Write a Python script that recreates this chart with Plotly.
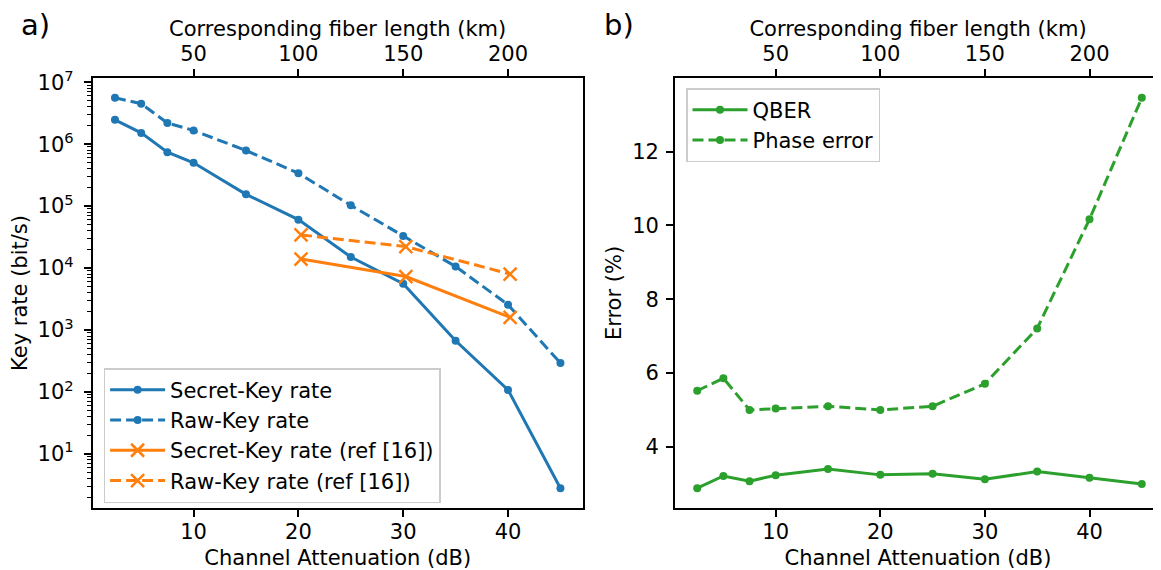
import plotly.graph_objects as go

# ---------------- data ----------------
atten_db = [2.5, 5, 7.5, 10, 15, 20, 25, 30, 35, 40, 45]
secret_key_rate = [2.47e6, 1.52e6, 7.4e5, 5.0e5, 1.55e5, 6.05e4, 1.51e4, 5.6e3, 671, 108, 2.8]
raw_key_rate = [5.6e6, 4.5e6, 2.2e6, 1.66e6, 7.9e5, 3.4e5, 1.03e5, 3.3e4, 1.06e4, 2.56e3, 293]
ref_atten_db = [20.25, 30.25, 40.2]
ref_secret_key_rate = [1.40e4, 7.3e3, 1.6e3]
ref_raw_key_rate = [3.43e4, 2.22e4, 8.0e3]
qber = [2.88, 3.21, 3.07, 3.23, 3.40, 3.24, 3.27, 3.12, 3.33, 3.16, 2.99]
phase_error = [5.52, 5.86, 5.00, 5.04, 5.10, 5.00, 5.10, 5.71, 7.21, 10.17, 13.46]

bottom_ticks = [10, 20, 30, 40]
fiber_km_ticks = [50, 100, 150, 200]
db_per_km = 0.2
log_major = [1, 2, 3, 4, 5, 6, 7]
err_ticks = [4, 6, 8, 10, 12]

# ---------------- style ----------------
PAGE_W, PAGE_H = 1161, 570
OFF = 8  # default page body margin
W, H = PAGE_W - OFF, PAGE_H - OFF
FONT = "DejaVu Sans"
FS = 21
BLUE, ORANGE, GREEN = "#1f77b4", "#ff7f0e", "#2ca02c"
LW = 3
DASH = "11px,5px"

def px_x(p):
    return (p - OFF) / W

def px_y(p):
    return 1 - (p - OFF) / H

fig = go.Figure()

# ---- panel a ----
fig.add_trace(go.Scatter(x=atten_db, y=secret_key_rate, mode="lines+markers",
                         name="Secret-Key rate", line=dict(color=BLUE, width=LW),
                         marker=dict(size=8, color=BLUE), xaxis="x", yaxis="y",
                         legend="legend"))
fig.add_trace(go.Scatter(x=atten_db, y=raw_key_rate, mode="lines+markers",
                         name="Raw-Key rate", line=dict(color=BLUE, width=LW, dash=DASH),
                         marker=dict(size=8, color=BLUE), xaxis="x", yaxis="y",
                         legend="legend"))
fig.add_trace(go.Scatter(x=ref_atten_db, y=ref_secret_key_rate, mode="lines+markers",
                         name="Secret-Key rate (ref [16])", line=dict(color=ORANGE, width=LW),
                         marker=dict(symbol="x-thin", size=13, color=ORANGE,
                                     line=dict(width=2.5, color=ORANGE)),
                         xaxis="x", yaxis="y", legend="legend"))
fig.add_trace(go.Scatter(x=ref_atten_db, y=ref_raw_key_rate, mode="lines+markers",
                         name="Raw-Key rate (ref [16])", line=dict(color=ORANGE, width=LW, dash=DASH),
                         marker=dict(symbol="x-thin", size=13, color=ORANGE,
                                     line=dict(width=2.5, color=ORANGE)),
                         xaxis="x", yaxis="y", legend="legend"))
# top axis holder (no marks)
fig.add_trace(go.Scatter(x=[], y=[], xaxis="x3", yaxis="y", showlegend=False, hoverinfo="skip"))

# ---- panel b ----
fig.add_trace(go.Scatter(x=atten_db, y=qber, mode="lines+markers", name="QBER",
                         line=dict(color=GREEN, width=LW), marker=dict(size=8, color=GREEN),
                         xaxis="x2", yaxis="y2", legend="legend2"))
fig.add_trace(go.Scatter(x=atten_db, y=phase_error, mode="lines+markers", name="Phase error",
                         line=dict(color=GREEN, width=LW, dash=DASH), marker=dict(size=8, color=GREEN),
                         xaxis="x2", yaxis="y2", legend="legend2"))
fig.add_trace(go.Scatter(x=[], y=[], xaxis="x4", yaxis="y2", showlegend=False, hoverinfo="skip"))

ydom = [px_y(507.7), px_y(78.3)]
dom_a = [px_x(92.7), px_x(582.7)]
dom_b = [px_x(675), 1.0]
range_a = [0.375, 47.125]
range_b = [0.375, 10 + (PAGE_W - 775.7) / 10.46]

common_axis = dict(showline=True, linecolor="black", linewidth=1.7, ticks="outside",
                   ticklen=7, tickwidth=1.7, tickcolor="black", showgrid=False,
                   zeroline=False, automargin=False, tickangle=0,
                   tickfont=dict(family=FONT, size=FS, color="black"))

minor_vals = [m * 10 ** k for k in range(0, 7) for m in range(2, 10)]

legend_common = dict(xref="paper", yref="paper", xanchor="left", yanchor="top",
                     bgcolor="rgba(255,255,255,0.8)", bordercolor="#cccccc",
                     borderwidth=1.5, itemwidth=55, font=dict(family=FONT, size=FS))

fig.update_layout(
    width=W, height=H, margin=dict(l=0, r=0, t=0, b=0, autoexpand=False),
    paper_bgcolor="white", plot_bgcolor="white",
    font=dict(family=FONT, size=FS, color="black"),
    xaxis=dict(domain=dom_a, range=range_a, anchor="y", tickvals=bottom_ticks,
               mirror=True, ticklabelstandoff=-3,
               title=dict(text="Channel Attenuation (dB)", standoff=8,
                          font=dict(family=FONT, size=FS)), **common_axis),
    xaxis3=dict(domain=dom_a, range=range_a, anchor="y", overlaying="x", side="top",
                tickvals=[k * db_per_km for k in fiber_km_ticks],
                ticktext=[str(k) for k in fiber_km_ticks],
                title=dict(text="Corresponding fiber length (km)", standoff=0,
                           font=dict(family=FONT, size=FS)), **common_axis),
    yaxis=dict(domain=ydom, type="log", range=[0.132, 7.063], anchor="x",
               tickvals=[10 ** k for k in log_major],
               ticktext=["10<sup>%d</sup>" % k for k in log_major],
               mirror=True, ticklabelstandoff=6,
               minor=dict(tickvals=minor_vals, ticks="outside", ticklen=4, tickwidth=1.2,
                          tickcolor="black", showgrid=False),
               title=dict(text="Key rate (bit/s)", standoff=5, font=dict(family=FONT, size=FS)),
               **common_axis),
    xaxis2=dict(domain=dom_b, range=range_b, anchor="y2", tickvals=bottom_ticks,
                mirror=True, ticklabelstandoff=-3,
                title=dict(text="Channel Attenuation (dB)", standoff=8,
                           font=dict(family=FONT, size=FS)), **common_axis),
    xaxis4=dict(domain=dom_b, range=range_b, anchor="y2", overlaying="x2", side="top",
                tickvals=[k * db_per_km for k in fiber_km_ticks],
                ticktext=[str(k) for k in fiber_km_ticks],
                title=dict(text="Corresponding fiber length (km)", standoff=0,
                           font=dict(family=FONT, size=FS)), **common_axis),
    yaxis2=dict(domain=ydom, range=[2.35, 13.99], anchor="x2", tickvals=err_ticks,
                mirror=True, ticklabelstandoff=3,
                title=dict(text="Error (%)", standoff=5, font=dict(family=FONT, size=FS)),
                **common_axis),
    legend=dict(x=px_x(103.6), y=px_y(368), **legend_common),
    legend2=dict(x=px_x(686), y=px_y(88), **legend_common),
    annotations=[
        dict(text="a)", xref="paper", yref="paper", x=px_x(19), y=px_y(25),
             xanchor="left", yanchor="middle", showarrow=False,
             font=dict(family=FONT, size=29, color="black")),
        dict(text="b)", xref="paper", yref="paper", x=px_x(602), y=px_y(25),
             xanchor="left", yanchor="middle", showarrow=False,
             font=dict(family=FONT, size=29, color="black")),
    ],
)

fig.write_html("out.html")
